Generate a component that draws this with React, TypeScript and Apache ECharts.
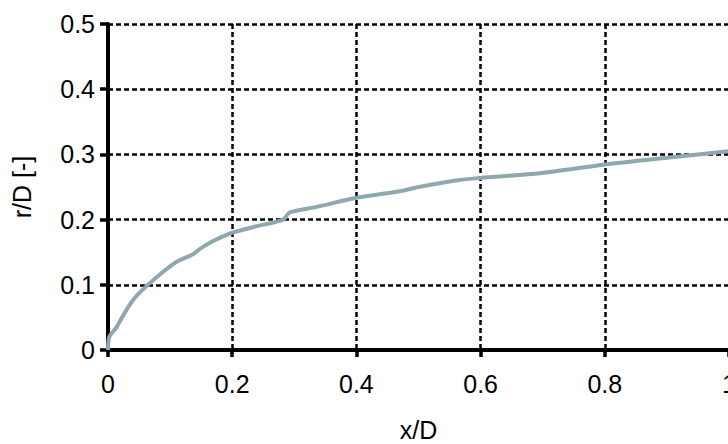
import React, { useEffect, useRef } from "react";
import * as echarts from "echarts";

const xValues = [0, 0.002, 0.013, 0.03, 0.045, 0.062, 0.085, 0.11, 0.137, 0.148, 0.169, 0.18, 0.2, 0.24, 0.282, 0.2926, 0.336, 0.398, 0.47, 0.5, 0.56, 0.6, 0.695, 0.8, 0.9, 1.0];
const rValues = [0, 0.02, 0.034, 0.062, 0.082, 0.098, 0.117, 0.135, 0.147, 0.155, 0.167, 0.172, 0.18, 0.19, 0.2, 0.211, 0.2195, 0.233, 0.2435, 0.25, 0.26, 0.264, 0.271, 0.2846, 0.295, 0.305];
const xTicks = [0, 0.2, 0.4, 0.6, 0.8, 1];
const yTicks = [0, 0.1, 0.2, 0.3, 0.4, 0.5];

const FONT = "Liberation Sans";

export default function App() {
  const ref = useRef<HTMLDivElement>(null);
  useEffect(() => {
    if (!ref.current) return;
    const chart = echarts.init(ref.current, null, { renderer: "svg" });
    const grid = { show: true, lineStyle: { color: "#000", width: 2.5, type: [5, 3] as any } };
    chart.setOption({
      animation: false,
      backgroundColor: "#fff",
      grid: { left: 108, top: 24, width: 621, height: 326, outerBoundsMode: "none" } as any,
      xAxis: {
        type: "value",
        min: 0,
        max: 1,
        interval: 0.2,
        name: "x/D",
        nameLocation: "middle",
        nameGap: 67,
        nameTextStyle: { fontFamily: FONT, fontSize: 25, color: "#000" },
        axisLine: { show: true, onZero: false, lineStyle: { color: "#000", width: 4 } },
        axisTick: { show: true, length: 7, lineStyle: { color: "#000", width: 3.5 } },
        axisLabel: {
          margin: 21,
          fontFamily: FONT,
          fontSize: 25,
          color: "#000",
          formatter: (v: number) => (xTicks.includes(Math.round(v * 10) / 10) ? String(Math.round(v * 10) / 10) : ""),
        },
        splitLine: grid,
      },
      yAxis: {
        type: "value",
        min: 0,
        max: 0.5,
        interval: 0.1,
        name: "r/D [-]",
        nameLocation: "middle",
        nameGap: 74,
        nameRotate: 90,
        nameTextStyle: { fontFamily: FONT, fontSize: 25, color: "#000" },
        axisLine: { show: true, onZero: false, lineStyle: { color: "#000", width: 4 } },
        axisTick: { show: true, length: 8, lineStyle: { color: "#000", width: 3.5 } },
        axisLabel: {
          margin: 13,
          fontFamily: FONT,
          fontSize: 25,
          color: "#000",
          formatter: (v: number) => (yTicks.includes(Math.round(v * 10) / 10) ? String(Math.round(v * 10) / 10) : ""),
        },
        splitLine: grid,
      },
      series: [
        {
          type: "line",
          data: xValues.map((x, i) => [x, rValues[i]]),
          showSymbol: false,
          smooth: 0.25,
          lineStyle: { color: "#8fa8ad", width: 4 },
          z: 3,
        },
      ],
    });
    return () => chart.dispose();
  }, []);
  return (
    <div
      ref={ref}
      style={{ position: "absolute", left: 0, top: 0, width: 728, height: 444 }}
    />
  );
}
